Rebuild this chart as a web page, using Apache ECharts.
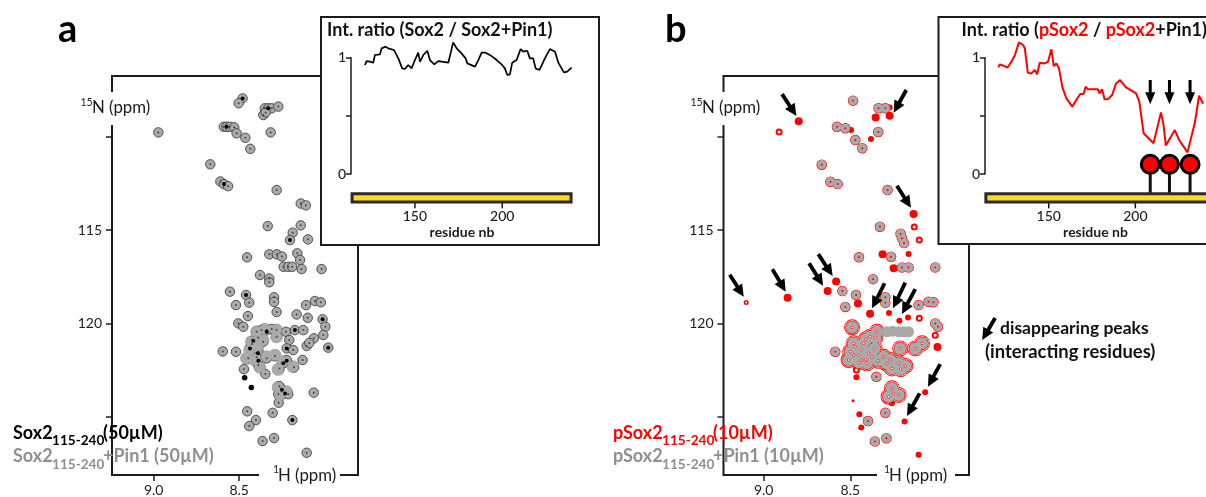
<!DOCTYPE html>
<html><head><meta charset="utf-8">
<style>html,body{margin:0;padding:0;background:#fff}#c{width:1206px;height:497px}</style>
<script src="https://cdn.jsdelivr.net/npm/echarts@6/dist/echarts.min.js"></script>
</head><body><div id="c"></div>
<script>
// ---- data (1H ppm, 15N ppm) ----
const sox2Peaks=[[8.48,107.95],[8.503,108.21],[8.35,108.48],[8.33,108.48],[8.31,108.48],[8.271,108.39],[8.359,108.84],[8.345,108.7],[8.59,109.47],[8.573,109.47],[8.555,109.47],[8.529,109.5],[8.515,109.82],[8.973,109.77],[8.316,109.77],[8.464,110.06],[8.435,110.65],[8.669,111.48],[8.61,112.4],[8.589,112.54],[8.565,112.65],[8.281,112.86],[8.14,113.58],[8.11,113.68],[8.333,114.79],[8.14,114.75],[8.187,115.14],[8.203,115.54],[8.098,115.5],[8.454,116.46],[8.324,116.3],[8.28,116.3],[8.25,116.42],[8.16,116.25],[8.144,116.6],[8.24,116.97],[8.213,116.97],[8.19,116.97],[8.135,117.09],[8.018,117.09],[8.378,117.41],[8.324,117.6],[8.324,117.8],[8.554,118.3],[8.46,118.48],[8.519,119.02],[8.441,118.89],[8.296,118.6],[8.296,118.85],[8.281,119.39],[8.449,119.61],[8.164,119.52],[8.109,119.02],[8.057,118.8],[8.022,118.87],[8.099,119.7],[8.012,119.78],[7.996,120.18],[8.008,120.62],[7.979,121.3],[8.063,120.8],[8.105,121.21],[8.09,121.05],[8.505,120.0],[8.476,120.18],[8.174,120.36],[8.125,120.36],[8.226,120.45],[8.281,120.36],[8.281,120.71],[8.339,120.36],[8.31,120.3],[8.398,120.45],[8.37,120.35],[8.207,120.89],[8.222,121.34],[8.184,121.43],[8.596,121.5],[8.519,121.52],[8.418,120.93],[8.359,120.98],[8.39,120.75],[8.437,121.34],[8.425,121.1],[8.388,121.52],[8.447,121.87],[8.398,121.82],[8.388,122.23],[8.339,121.87],[8.291,121.75],[8.242,122.14],[8.222,121.96],[8.265,122.41],[8.18,122.35],[8.129,121.96],[8.472,122.45],[8.347,122.71],[8.265,123.36],[8.232,123.75],[8.271,123.79],[8.213,123.79],[8.25,123.55],[8.269,124.25],[8.064,123.71],[8.453,124.71],[8.304,124.79],[8.402,125.18],[8.441,125.5],[8.189,125.18],[8.363,126.3],[8.296,126.14],[8.105,126.93]];
const sox2Blobs=[[8.398,120.45],[8.35,120.32],[8.282,120.36],[8.282,120.71],[8.428,120.98],[8.438,121.43],[8.457,121.87],[8.408,121.96],[8.379,122.35],[8.34,121.79],[8.291,121.7],[8.243,122.05],[8.185,122.32],[8.272,122.46],[8.361,120.89],[8.39,121.25],[8.272,123.43],[8.262,123.84],[8.223,123.66]];
const sox2Strong=[[8.48,107.95],[8.33,108.48],[8.573,109.47],[8.589,112.54],[8.203,115.54],[8.46,118.48],[8.174,120.36],[8.339,120.45],[8.418,120.93],[8.437,121.34],[8.39,121.6],[8.388,122.0],[8.242,122.14],[8.222,122.0],[8.222,121.34],[8.25,123.55],[8.232,123.75],[8.189,125.18],[7.979,121.3],[8.012,119.78]];
const sox2Weak=[[8.468,122.91],[8.429,123.43]];

const psoxSharedPeaks=[[8.484,108.07],[8.577,109.47],[8.529,109.55],[8.471,110.18],[8.431,110.62],[8.339,109.75],[8.337,108.48],[8.298,108.48],[8.665,111.5],[8.615,112.41],[8.573,112.54],[8.285,112.86],[8.329,114.82],[8.21,115.2],[8.202,115.44],[8.19,115.7],[8.45,116.46],[8.265,116.43],[8.202,117.0],[8.164,117.0],[8.01,117.0],[8.369,117.63],[8.546,118.27],[8.467,118.48],[8.529,119.12],[8.298,118.6],[8.298,118.9],[8.106,119.02],[8.049,118.84],[8.02,118.87],[8.01,120],[7.994,120.18],[8.298,124.79],[8.398,125.23],[8.358,126.32],[8.292,126.15],[8.587,121.52],[8.35,122.86]];
const psoxClusterPeaks=[[8.49,120.21],[8.346,120.45],[8.385,120.71],[8.356,120.75],[8.423,121.07],[8.481,121.07],[8.5,121.52],[8.471,121.25],[8.452,121.7],[8.51,121.96],[8.433,121.96],[8.394,121.6],[8.375,121.79],[8.308,121.79],[8.269,121.96],[8.221,122.14],[8.26,122.41],[8.183,122.28],[8.212,121.34],[8.125,121.34],[8.086,121.07],[8.404,122.14],[8.25,123.76],[8.26,123.48],[8.279,123.93],[8.221,123.84],[8.44,121.4],[8.41,120.85],[8.36,121.35],[8.34,122.0],[8.41,121.95],[8.48,121.7],[8.29,122.15],[8.21,122.45],[8.45,122.1]];
const psoxGrayOnly=[[8.288,120.45],[8.255,120.42],[8.221,120.45],[8.19,120.45],[8.164,120.45]];
const psoxSolidLarge=[[8.798,109.18],[8.273,108.88],[8.135,114.14],[8.582,117.75],[8.456,118.93],[8.386,119.48],[7.997,121.26],[8.354,108.97],[8.25,117.05],[8.314,116.3],[8.631,118.27],[8.862,118.62]];
const psoxSolidSmall=[[8.381,110.13],[8.164,116.29],[8.277,119.44],[8.217,119.86],[8.167,119.68],[8.068,123.69],[8.187,125.25],[8.106,127.03],[8.448,124.86],[8.437,125.57],[8.26,124.28],[8.465,122.89],[8.496,109.64],[8.273,108.44]];
const psoxRingPeaks=[[8.911,109.75],[8.131,114.84],[8.102,115.54],[8.01,120.64],[8.465,122.5],[8.102,119.72]];
const psoxTinyRing=[[9.101,118.88]];
const psoxTiny=[[8.484,124.14]];

const residues1=[121.4,122.3,124.2,126.1,127.1,130,130.9,133.2,134.7,138,140.5,142.7,144.3,146.2,148.1,150,151.9,152.9,154.8,157.1,158.6,161.1,163.4,165.3,169.1,170.4,171.9,173.9,176.7,179,180,184.4,186.3,188.2,190.5,193.9,196.8,199.6,201.5,202.9,204.4,205.7,208.2,210.5,212,214.3,215.8,217.7,219.1,221.2,223.1,224.4,227.3,230.2,232.1,233.4,235.3,237.2,239.7];
const ratio1=[.937,.971,.966,.957,1.023,1.029,1.08,1.095,1.08,1.066,.994,.908,.903,.937,.908,.98,1.043,.966,1.023,1.06,.98,.943,.971,.966,.957,1.037,1.132,1.08,1.037,.994,.951,.923,.98,1.043,1.043,1.014,.98,.943,.908,.851,.857,.957,.98,1.074,1.052,1.06,.994,.994,.908,.894,.951,.994,1.074,1.052,.957,.923,.874,.88,.914];
const residues2=[120.9,121.8,123.8,126.1,128.5,130.5,132.8,135.2,136.2,137.9,140,142,143.3,144.8,147.7,149.6,151.5,152.9,154.4,155.9,157.9,160.2,163.6,165.9,168.2,170.1,171.3,172.6,178.4,179.3,180.8,182.2,184.1,186.6,188.9,191.2,194.6,200.4,202.3,203.3,204.8,210.5,214.8,216.3,217.6,222.8,225.3,230.1,234.3,236.8,239.1];
const ratio2=[.917,.943,.931,.914,.966,1.023,1.132,1.109,1.08,.871,.865,.894,.857,.957,.951,.966,1.072,.928,.951,.908,.745,.65,.579,.636,.688,.688,.751,.728,.728,.693,.728,.642,.642,.679,.779,.808,.745,.693,.622,.607,.35,.264,.53,.421,.244,.378,.292,.186,.436,.673,.604];
const phosphoSites=[208.6,219.7,231.6];

// arrows: tail 1H, tail 15N, tip 1H, tip 15N
const nmrArrows=[[8.894,107.72,8.811,108.89],[8.177,107.5,8.25,108.72],[8.231,112.63,8.15,113.81],[9.196,117.39,9.115,118.57],[8.95,117.1,8.873,118.3],[8.738,116.78,8.657,117.98],[8.685,116.29,8.602,117.46],[8.302,117.85,8.375,119.19],[8.183,117.82,8.254,119.19],[8.125,118.16,8.202,119.5],[7.981,122.18,8.052,123.39],[8.1,123.75,8.173,124.96],[7.664,119.71,7.739,120.89]];

const nmrXTicks=[9.0,8.5], nmrYTicks=[110,115,120,125], nmrYLabels=[115,120];
const ratioTicks=[0,.5,1], ratioLabels=[0,1], residueTicks=[150,200];
const constructBar1=[114,239.4,-.17,-.24], constructBar2=[113.7,242,-.17,-.24];

// ---- helpers ----
const FONT='Lato', INK='#1c1c1c', GRAY='#aaaaaa', RED='#ff0000', GREYTXT='#8f8f8f';
function dot(g,data,size,color,z,bc,bw){return {type:'scatter',xAxisIndex:g,yAxisIndex:g,data,symbolSize:size,z,silent:true,
  itemStyle:{color,borderColor:bc||color,borderWidth:bw||0,opacity:1},animation:false};}
function arrowSeries(g,data,shaft,headW,headL,z){return {type:'custom',xAxisIndex:g,yAxisIndex:g,data,z,silent:true,animation:false,clip:false,
  encode:{x:[0,2],y:[1,3]},
  renderItem(p,api){
    const a=api.coord([api.value(0),api.value(1)]),b=api.coord([api.value(2),api.value(3)]);
    const dx=b[0]-a[0],dy=b[1]-a[1],L=Math.hypot(dx,dy),ux=dx/L,uy=dy/L,nx=-uy,ny=ux;
    const c=[b[0]-ux*headL,b[1]-uy*headL];
    const pts=[[a[0]+nx*shaft/2,a[1]+ny*shaft/2],[c[0]+nx*shaft/2,c[1]+ny*shaft/2],[c[0]+nx*headW/2,c[1]+ny*headW/2],b,
      [c[0]-nx*headW/2,c[1]-ny*headW/2],[c[0]-nx*shaft/2,c[1]-ny*shaft/2],[a[0]-nx*shaft/2,a[1]-ny*shaft/2]];
    return {type:'polygon',shape:{points:pts},style:{fill:'#000'}};
  }};}
function barSeries(g,b){return {type:'custom',xAxisIndex:g,yAxisIndex:g,data:[b],z:9,silent:true,animation:false,clip:false,
  encode:{x:[0,1],y:[2,3]},
  renderItem(p,api){
    const a=api.coord([api.value(0),api.value(2)]),c=api.coord([api.value(1),api.value(3)]);
    return {type:'rect',shape:{x:a[0],y:a[1],width:c[0]-a[0],height:c[1]-a[1]},style:{fill:'#ffd91c',stroke:'#2a2a2a',lineWidth:3}};
  }};}
function segSeries(g,data,w,z){return {type:'custom',xAxisIndex:g,yAxisIndex:g,data,z,silent:true,animation:false,clip:false,encode:{x:[0,2],y:[1,3]},
  renderItem(p,api){const a=api.coord([api.value(0),api.value(1)]),b=api.coord([api.value(2),api.value(3)]);
    return {type:'line',shape:{x1:a[0],y1:a[1],x2:b[0],y2:b[1]},style:{stroke:'#111',lineWidth:w}};}};}
function lineSeries(g,xs,ys,color,w){return {type:'line',xAxisIndex:g,yAxisIndex:g,data:xs.map((x,i)=>[x,ys[i]]),showSymbol:false,clip:false,z:9,silent:true,animation:false,
  lineStyle:{color,width:w}};}
function nmrAxes(g){return {
  x:{gridIndex:g,type:'value',inverse:true,min:g==0?7.805:7.815,max:g==0?9.244:9.232,splitLine:{show:false},position:'bottom',
    axisLine:{show:false},axisTick:{show:true,length:6,lineStyle:{color:INK,width:1.5},customValues:nmrXTicks},
    axisLabel:{show:true,customValues:nmrXTicks,formatter:v=>v.toFixed(1),fontFamily:FONT,fontSize:14,color:INK,margin:8}},
  y:{gridIndex:g,type:'value',inverse:true,min:106.75,max:128.12,splitLine:{show:false},
    axisLine:{show:false},axisTick:{show:true,length:6,lineStyle:{color:INK,width:1.5},customValues:nmrYTicks},
    axisLabel:{show:true,customValues:nmrYLabels,formatter:v=>String(v),fontFamily:FONT,fontSize:14,color:INK,margin:10}}};}
function insetAxes(g,min,max){return {
  x:{gridIndex:g,type:'value',min,max,z:9,position:'bottom',offset:29,splitLine:{show:false},axisLine:{show:false},
    axisTick:{show:false},
    axisLabel:{show:true,customValues:residueTicks,formatter:v=>String(v),fontFamily:FONT,fontSize:14,fontWeight:500,color:INK,margin:6},
    name:'residue nb',nameLocation:'middle',nameGap:22,nameTextStyle:{fontFamily:FONT,fontSize:14,fontWeight:'bold',color:INK}},
  y:{gridIndex:g,type:'value',min:0,max:1,z:9,splitLine:{show:false},
    axisLine:{show:true,lineStyle:{color:INK,width:1.5}},axisTick:{show:true,length:5,inside:false,lineStyle:{color:INK,width:1.5},customValues:ratioTicks},
    axisLabel:{show:true,customValues:ratioLabels,formatter:v=>String(v),fontFamily:FONT,fontSize:14,fontWeight:500,color:INK,margin:5}}};}
function T(x,y,text,size,fill,weight,align,extra){return {type:'text',x,y,z:30,silent:true,
  style:Object.assign({text,fill,font:(weight||'normal')+' '+size+'px '+FONT,textAlign:align||'left',textVerticalAlign:'middle'},extra||{})};}
function W(x,y,w,h){return {type:'rect',z:5,silent:true,shape:{x,y,width:w,height:h},style:{fill:'#fff'}};}
function box(x,y,w,h){return {type:'rect',z:6,silent:true,shape:{x,y,width:w,height:h},style:{fill:'#fff',stroke:INK,lineWidth:2}};}

const A0=nmrAxes(0),A1=nmrAxes(1),I0=insetAxes(2,113.4,240.5),I1=insetAxes(3,113.2,240.8);
const stems=phosphoSites.map(r=>[r,.083,r,-.17]);
const insetArrows=phosphoSites.map(r=>[r,.808,r,.6]);
const residueTickSegs=residueTicks.map(r=>[r,-.24,r,-.295]);

const option={animation:false,backgroundColor:'#fff',
 grid:[
  {left:112,top:76,width:246,height:399,show:true,borderColor:INK,borderWidth:2,backgroundColor:'#fff'},
  {left:723.5,top:76,width:245.5,height:399,show:true,borderColor:INK,borderWidth:2,backgroundColor:'#fff'},
  {left:351,top:57.7,width:222,height:116.3},
  {left:985,top:57.7,width:222,height:116.3}],
 xAxis:[A0.x,A1.x,I0.x,I1.x],
 yAxis:[A0.y,A1.y,I0.y,I1.y],
 series:[
  dot(0,sox2Blobs,13,GRAY,1.5),
  dot(0,sox2Peaks,9.5,GRAY,2,'#333',0.8),
  dot(0,sox2Blobs,11,GRAY,2.5),
  dot(0,sox2Peaks,2,'#444',3),
  dot(0,sox2Strong,4,'#000',3),
  dot(0,sox2Weak,5.5,'#000',4),
  dot(1,psoxClusterPeaks,16,RED,2),
  dot(1,psoxClusterPeaks,14.3,'#fff',2.1),
  dot(1,psoxClusterPeaks,13.3,RED,2.2),
  dot(1,psoxSolidLarge,8,RED,2.3),
  dot(1,psoxSolidSmall,6,RED,2.3),
  dot(1,psoxTiny,3,RED,2.3),
  dot(1,psoxRingPeaks,5,'#fff',2.3,RED,2),
  dot(1,psoxTinyRing,3.5,'#fff',2.3,RED,1.5),
  dot(1,psoxSharedPeaks,10.5,RED,2.4),
  dot(1,psoxSharedPeaks,9.3,GRAY,2.5),
  dot(1,psoxClusterPeaks,12,GRAY,2.5),
  dot(1,psoxGrayOnly,11,GRAY,2.5),
  dot(1,psoxClusterPeaks,2.5,'#fff',2.6,RED,0.7),
  dot(1,psoxSharedPeaks,2,RED,2.7),
  arrowSeries(1,nmrArrows,3.8,11.5,12,4),
  lineSeries(2,residues1,ratio1,'#000',1.7),
  barSeries(2,constructBar1),
  segSeries(2,residueTickSegs,1.5,8),
  lineSeries(3,residues2,ratio2,RED,2),
  barSeries(3,constructBar2),
  segSeries(3,residueTickSegs,1.5,8),
  segSeries(3,stems,3,8),
  dot(3,stems.map(s=>[s[0],s[1]]),18,RED,10,'#000',3),
  arrowSeries(3,insetArrows,3,10,12,10)
 ],
 graphic:{elements:[
  W(105,92,14,33),W(259,470,81,10),W(877,470,78,10),W(717,92,14,33),
  box(321,17,278,228),box(938.5,17,300,227),
  T(58,30,'a',38,'#000','bold'),T(665,30,'b',38,'#000','bold'),
  T(327,30,'Int. ratio (Sox2 / Sox2+Pin1)',18,'#111','bold'),
  T(961.5,30,'{k|Int. ratio (}{r|pSox2}{k| / }{r|pSox2}{k|+Pin1)}',18,'#111','bold','left',{rich:{
    k:{fill:'#111',font:'bold 18px '+FONT},r:{fill:RED,font:'bold 18px '+FONT}}}),
  T(80.5,103,'15',10.5,INK),T(92,108,'N (ppm)',16.8,INK),
  T(690.5,103,'15',10.5,INK),T(702,108,'N (ppm)',16.8,INK),
  T(273,470,'1',10.5,INK),T(278,476,'H (ppm)',16.8,INK),
  T(884,470,'1',10.5,INK),T(889,476,'H (ppm)',16.8,INK),
  T(13,433,'Sox2',18,'#000','bold'),T(52,441,'115-240',13.6,'#000','bold'),T(103,433,'(50µM)',18,'#000','bold'),
  T(13,456,'Sox2',18,GREYTXT,'bold'),T(52,465,'115-240',13.6,GREYTXT,'bold'),T(103,456,'+Pin1 (50µM)',18,GREYTXT,'bold'),
  T(613,433,'pSox2',18,RED,'bold'),T(662,441,'115-240',13.6,RED,'bold'),T(713,433,'(10µM)',18,RED,'bold'),
  T(613,456,'pSox2',18,GREYTXT,'bold'),T(662,465,'115-240',13.6,GREYTXT,'bold'),T(713,456,'+Pin1 (10µM)',18,GREYTXT,'bold'),
  T(1000,328,'disappearing peaks',17.5,'#111','bold'),
  T(985,352,'(interacting residues)',18.4,'#111','bold')
 ]}
};
echarts.init(document.getElementById('c'),null,{renderer:'canvas'}).setOption(option);
</script></body></html>
